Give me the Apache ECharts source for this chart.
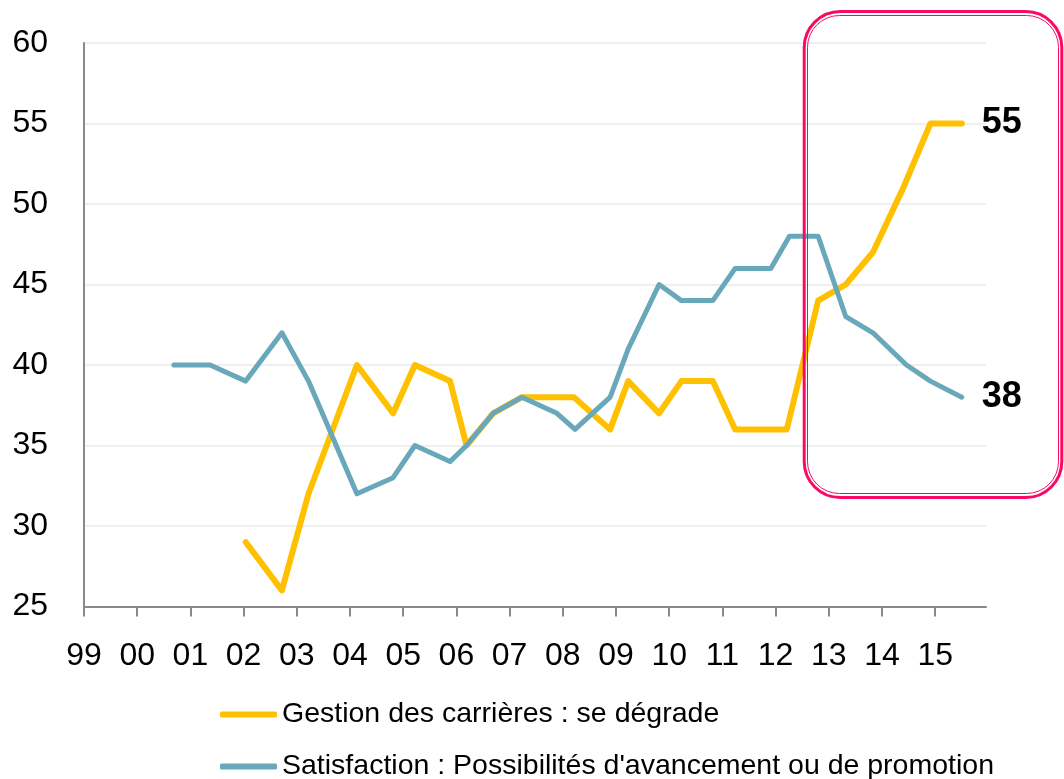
<!DOCTYPE html>
<html>
<head>
<meta charset="utf-8">
<style>
  html, body { margin: 0; padding: 0; background: #fff; }
  #chart { width: 1064px; height: 779px; }
</style>
<script src="https://cdn.jsdelivr.net/npm/echarts@6/dist/echarts.min.js"></script>
</head>
<body>
<div id="chart"></div>
<script>
// Survey dates (decimal years) and values for each series
const gestionYears = [2002.04, 2002.72, 2003.22, 2004.13, 2004.81, 2005.22, 2005.88, 2006.19,
  2006.69, 2007.23, 2008.21, 2008.89, 2009.23, 2009.81, 2010.23, 2010.82, 2011.24, 2012.21,
  2012.80, 2013.32, 2013.83, 2014.40, 2014.91, 2015.50];
const gestionValues = [29, 26, 32, 40, 37, 40, 39, 35,
  37, 38, 38, 36, 39, 37, 39, 39, 36, 36,
  44, 45, 47, 51, 55, 55];

const satisfactionYears = [2000.69, 2001.37, 2002.04, 2002.72, 2003.22, 2004.13, 2004.81, 2005.22,
  2005.88, 2006.19, 2006.69, 2007.23, 2007.89, 2008.23, 2008.89, 2009.23, 2009.81, 2010.23,
  2010.82, 2011.24, 2011.91, 2012.26, 2012.80, 2013.32, 2013.83, 2014.46, 2014.91, 2015.50];
const satisfactionValues = [40, 40, 39, 42, 39, 32, 33, 35,
  34, 35, 37, 38, 37, 36, 38, 41, 45, 44,
  44, 46, 46, 48, 48, 43, 42, 40, 39, 38];

// X tick labels, one per year from 1999
const yearLabels = ['99', '00', '01', '02', '03', '04', '05', '06', '07', '08',
  '09', '10', '11', '12', '13', '14', '15'];
const firstYear = 1999;

const seriesNames = ['Gestion des carrières : se dégrade',
  'Satisfaction : Possibilités d\'avancement ou de promotion'];
const seriesColors = ['#FFC000', '#68A8BA'];

const FONT = '"Liberation Sans", Arial, sans-serif';
const tickValues = yearLabels.map((_, i) => firstYear + i);
const pairs = (xs, ys) => xs.map((x, i) => [x, ys[i]]);

const chart = echarts.init(document.getElementById('chart'), null, { renderer: 'canvas' });

const endLabel = {
  show: true,
  formatter: p => String(p.value[1]),
  distance: 20,
  color: '#000',
  fontFamily: FONT,
  fontWeight: 'bold',
  fontSize: 36
};

// one legend block per series, stacked vertically
const legendRow = (i, top) => ({
  left: 215,
  top: top,
  itemWidth: 57,
  itemHeight: 6,
  icon: 'roundRect',
  selectedMode: false,
  textStyle: { color: '#000', fontFamily: FONT, fontSize: 28.5 },
  data: [{ name: seriesNames[i], itemStyle: { color: seriesColors[i] } }]
});

chart.setOption({
  animation: false,
  backgroundColor: '#fff',
  grid: { left: 84, right: 78, top: 43, bottom: 172.5, containLabel: false },
  xAxis: {
    type: 'value',
    min: 1999,
    max: 2015.955,
    splitLine: { show: false },
    axisLine: { show: true, lineStyle: { color: '#898989', width: 2 } },
    axisTick: { show: true, customValues: tickValues, length: 10, lineStyle: { color: '#898989', width: 2 } },
    axisLabel: {
      customValues: tickValues,
      formatter: v => yearLabels[Math.round(v) - firstYear] ?? '',
      margin: 34,
      color: '#000',
      fontFamily: FONT,
      fontSize: 32
    }
  },
  yAxis: {
    type: 'value',
    min: 25,
    max: 60,
    interval: 5,
    axisLine: { show: true, lineStyle: { color: '#898989', width: 2 } },
    axisTick: { show: false },
    splitLine: { show: true, lineStyle: { color: '#EFEFEF', width: 2 } },
    axisLabel: { margin: 36, color: '#000', fontFamily: FONT, fontSize: 32 }
  },
  legend: [legendRow(0, 695), legendRow(1, 747)],
  series: [
    {
      name: seriesNames[0],
      type: 'line',
      data: pairs(gestionYears, gestionValues),
      symbol: 'none',
      color: seriesColors[0],
      lineStyle: { color: seriesColors[0], width: 6, cap: 'round', join: 'round' },
      endLabel: endLabel,
      z: 3
    },
    {
      name: seriesNames[1],
      type: 'line',
      data: pairs(satisfactionYears, satisfactionValues),
      symbol: 'none',
      color: seriesColors[1],
      lineStyle: { color: seriesColors[1], width: 5, cap: 'round', join: 'round' },
      endLabel: endLabel,
      z: 4
    }
  ],
  graphic: [
    // highlight frame around the recent period (double outline)
    {
      type: 'rect', z: 100, silent: true,
      shape: { x: 804.2, y: 11.6, width: 257.6, height: 486, r: 36 },
      style: { fill: 'none', stroke: '#FA0A64', lineWidth: 3 }
    },
    {
      type: 'rect', z: 100, silent: true,
      shape: { x: 807.5, y: 15.5, width: 251, height: 478, r: 32 },
      style: { fill: 'none', stroke: '#FA0A64', lineWidth: 1 }
    }
  ]
});
</script>
</body>
</html>
